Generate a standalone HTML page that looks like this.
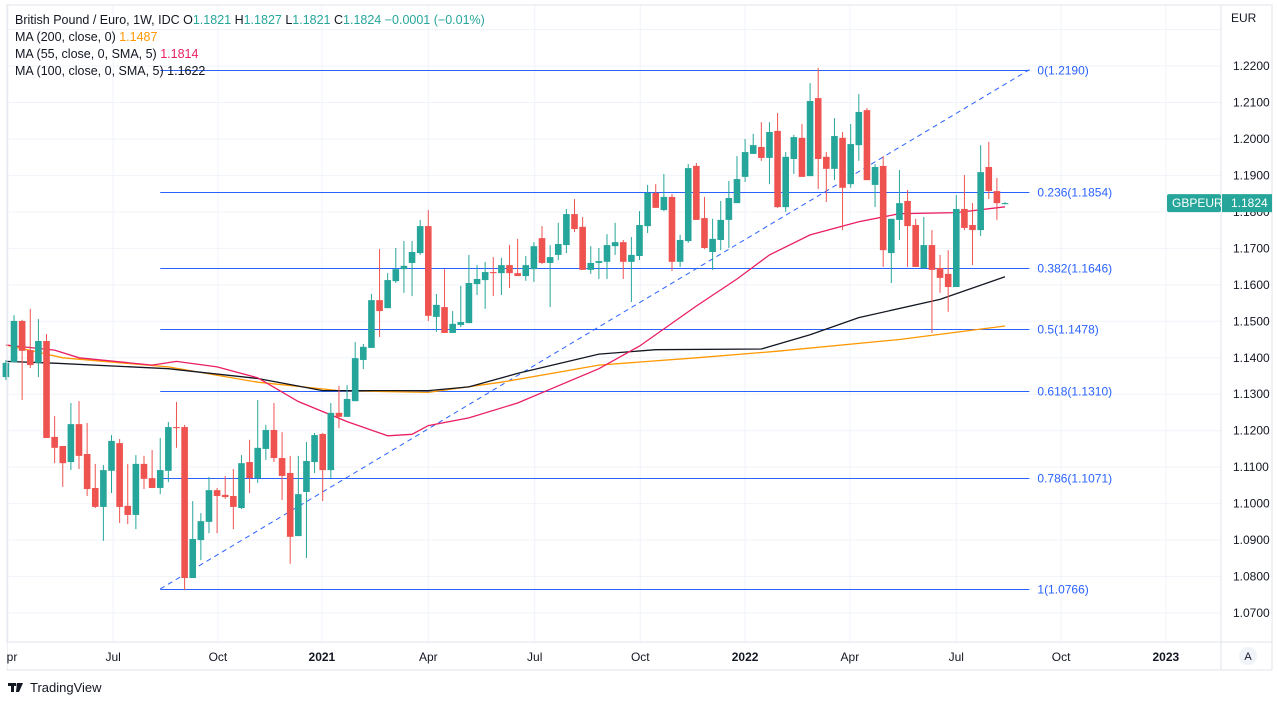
<!DOCTYPE html>
<html><head><meta charset="utf-8"><style>
body{margin:0;background:#fff;font-family:"Liberation Sans",sans-serif;}
svg{display:block}
</style></head><body>
<svg id="chart" width="1278" height="702" xmlns="http://www.w3.org/2000/svg">
<rect x="0" y="0" width="1278" height="702" fill="#fff"/>
<g id="grid"></g>
<g id="fib"></g>
<g id="mas"></g>
<g id="candles"></g>
<g id="axes"></g>
<g font-size="12.5" fill="#131722">
<text x="15" y="24">British Pound / Euro, 1W, IDC <tspan fill="#131722">O</tspan><tspan fill="#26a69a">1.1821</tspan>  <tspan fill="#131722"> H</tspan><tspan fill="#26a69a">1.1827</tspan><tspan fill="#131722">  L</tspan><tspan fill="#26a69a">1.1821</tspan><tspan fill="#131722">  C</tspan><tspan fill="#26a69a">1.1824  −0.0001 (−0.01%)</tspan></text>
<text x="15" y="41">MA (200, close, 0) <tspan fill="#ff9800">1.1487</tspan></text>
<text x="15" y="58">MA (55, close, 0, SMA, 5) <tspan fill="#e91e63">1.1814</tspan></text>
<text x="15" y="75">MA (100, close, 0, SMA, 5) <tspan fill="#131722">1.1622</tspan></text>
</g>
<g>
<rect x="8" y="683" width="8" height="3" fill="#131722"/><rect x="11" y="683" width="3" height="9" fill="#131722"/>
<polygon points="17,683 23,683 19,692 16,692" fill="#131722"/><circle cx="18" cy="685" r="1.5" fill="#131722"/>
<text x="30" y="692" font-size="13" fill="#131722">TradingView</text>
</g>
</svg>
<script>
const opens=[1.1347,1.1388,1.1501,1.1421,1.1386,1.1446,1.1183,1.1158,1.1114,1.1218,1.1136,1.1043,1.0991,1.1090,1.1166,1.0994,1.0969,1.1109,1.1070,1.1043,1.1090,1.1210,1.1210,1.0796,1.0900,1.0950,1.1037,1.1024,1.1021,1.0988,1.1114,1.1070,1.1150,1.1202,1.1125,1.1084,1.0911,1.1032,1.1114,1.1191,1.1092,1.1249,1.1238,1.1281,1.1394,1.1427,1.1558,1.1536,1.1610,1.1643,1.1660,1.1687,1.1761,1.1512,1.1539,1.1468,1.1490,1.1495,1.1602,1.1613,1.1635,1.1632,1.1654,1.1632,1.1624,1.1643,1.1728,1.1660,1.1682,1.1709,1.1794,1.1759,1.1641,1.1660,1.1663,1.1706,1.1717,1.1663,1.1679,1.1761,1.1852,1.1805,1.1841,1.1663,1.1720,1.1926,1.1783,1.1690,1.1723,1.1778,1.1824,1.1896,1.1959,1.1978,1.1948,1.2022,1.1813,1.1945,1.2003,1.1898,1.2112,1.1951,1.1918,1.2003,1.1876,1.1983,1.2079,1.1874,1.1926,1.1687,1.1778,1.1830,1.1764,1.1646,1.1709,1.1646,1.1630,1.1594,1.1808,1.1764,1.1750,1.1923,1.1857,1.1821];
const highs=[1.1394,1.1517,1.1504,1.1534,1.1506,1.1465,1.1240,1.1158,1.1276,1.1281,1.1221,1.1109,1.1106,1.1188,1.1177,1.1109,1.1133,1.1131,1.1147,1.1180,1.1224,1.1279,1.1216,1.1007,1.0974,1.1073,1.1043,1.1076,1.1095,1.1133,1.1175,1.1284,1.1216,1.1276,1.1196,1.1131,1.1131,1.1169,1.1194,1.1194,1.1276,1.1323,1.1325,1.1443,1.1438,1.1575,1.1698,1.1632,1.1701,1.1720,1.1720,1.1778,1.1805,1.1575,1.1643,1.1528,1.1597,1.1682,1.1654,1.1663,1.1676,1.1674,1.1709,1.1726,1.1679,1.1717,1.1761,1.1709,1.1770,1.1808,1.1835,1.1786,1.1706,1.1701,1.1739,1.1770,1.1723,1.1731,1.1802,1.1874,1.1876,1.1904,1.1849,1.1737,1.1931,1.1934,1.1841,1.1781,1.1830,1.1885,1.1953,1.2000,1.2014,1.2046,1.2046,1.2071,1.1964,1.2011,1.2041,1.2153,1.2195,1.1964,1.2057,1.2019,1.2041,1.2123,1.2085,1.1931,1.1953,1.1781,1.1915,1.1860,1.1781,1.1786,1.1750,1.1682,1.1695,1.1846,1.1901,1.1824,1.1983,1.1992,1.1893,1.1827];
const lows=[1.1339,1.1388,1.1284,1.1372,1.1347,1.1180,1.1111,1.1046,1.1092,1.1095,1.1021,1.0988,1.0898,1.1029,1.0947,1.0944,1.0930,1.1040,1.1043,1.1026,1.1059,1.1153,1.0763,1.0796,1.0845,1.0919,1.0919,1.1013,1.0930,1.0985,1.1029,1.1057,1.1120,1.1114,1.1010,1.0835,1.0911,1.0851,1.1084,1.1007,1.1070,1.1207,1.1238,1.1281,1.1369,1.1427,1.1457,1.1536,1.1605,1.1578,1.1569,1.1682,1.1501,1.1471,1.1468,1.1468,1.1484,1.1495,1.1572,1.1534,1.1569,1.1572,1.1591,1.1624,1.1611,1.1608,1.1657,1.1539,1.1668,1.1687,1.1745,1.1641,1.1630,1.1616,1.1616,1.1682,1.1616,1.1553,1.1668,1.1742,1.1811,1.1802,1.1638,1.1649,1.1715,1.1778,1.1698,1.1641,1.1695,1.1701,1.1824,1.1882,1.1959,1.1940,1.1876,1.1811,1.1800,1.1904,1.1896,1.1898,1.1863,1.1827,1.1887,1.1750,1.1866,1.1940,1.1887,1.1813,1.1649,1.1605,1.1723,1.1649,1.1649,1.1643,1.1468,1.1578,1.1526,1.1594,1.1750,1.1654,1.1734,1.1835,1.1778,1.1821];
const closes=[1.1386,1.1501,1.1419,1.1380,1.1446,1.1180,1.1153,1.1111,1.1218,1.1131,1.1040,1.0991,1.1092,1.1172,1.0991,1.0969,1.1109,1.1068,1.1043,1.1092,1.1210,1.1207,1.0796,1.0903,1.0952,1.1037,1.1021,1.1018,1.0991,1.1111,1.1070,1.1153,1.1202,1.1125,1.1076,1.0909,1.1026,1.1117,1.1188,1.1092,1.1249,1.1238,1.1287,1.1399,1.1430,1.1558,1.1528,1.1613,1.1643,1.1652,1.1690,1.1761,1.1515,1.1545,1.1468,1.1493,1.1498,1.1605,1.1616,1.1635,1.1632,1.1654,1.1632,1.1624,1.1654,1.1706,1.1660,1.1676,1.1712,1.1794,1.1753,1.1641,1.1660,1.1665,1.1709,1.1717,1.1663,1.1682,1.1764,1.1852,1.1811,1.1841,1.1663,1.1723,1.1920,1.1778,1.1701,1.1726,1.1778,1.1838,1.1890,1.1964,1.1983,1.1948,1.2019,1.1813,1.1951,1.2005,1.1896,1.2104,1.1945,1.1918,1.2008,1.1866,1.1986,1.2074,1.1887,1.1923,1.1695,1.1781,1.1824,1.1761,1.1649,1.1709,1.1641,1.1619,1.1594,1.1808,1.1756,1.1750,1.1909,1.1857,1.1824,1.1824];
const ma200Idx=[0,7,20,31,41,52,61,73,85,95,110,123];
const ma200Val=[1.1435,1.1400,1.1375,1.1333,1.1310,1.1305,1.1333,1.1380,1.1400,1.1418,1.1450,1.1487];
const ma100Idx=[0,6,20,24,31,39,52,57,63,73,80,93,99,105,115,123];
const ma100Val=[1.1390,1.1385,1.1370,1.1360,1.1343,1.1310,1.1310,1.1320,1.1357,1.1410,1.1422,1.1424,1.1463,1.1510,1.1560,1.1622];
const ma55Idx=[0,6,9,18,21,26,31,36,42,47,50,52,57,63,68,73,78,85,90,94,99,105,110,117,123];
const ma55Val=[1.1435,1.1421,1.1400,1.1380,1.1390,1.1375,1.1345,1.1280,1.1225,1.1186,1.1190,1.1214,1.1235,1.1276,1.1323,1.1370,1.1432,1.1542,1.1616,1.1682,1.1737,1.1773,1.1795,1.1798,1.1814];
const priceTicks=[1.07,1.08,1.09,1.10,1.11,1.12,1.13,1.14,1.15,1.16,1.17,1.18,1.19,1.20,1.21,1.22];
const timeLabels=["Apr","Jul","Oct","2021","Apr","Jul","Oct","2022","Apr","Jul","Oct","2023"];
const timeIdx=[0.26,13.2,26.1,38.9,52.0,65.1,78.1,91.0,103.9,117.0,129.9,142.8];
const fibLevels=[0,0.236,0.382,0.5,0.618,0.786,1];
const fibHigh=1.2190, fibLow=1.0766;
const fibStartIdx=19, fibEndIdx=126;

const NS="http://www.w3.org/2000/svg";
const X=i=>5.9+i*8.123;
const Y=p=>66+(1.22-p)*3647;
const PL=7,PR=1221,PT=5,PB=642;
function mk(tag,attrs,parent){const e=document.createElementNS(NS,tag);for(const k in attrs)e.setAttribute(k,attrs[k]);parent.appendChild(e);return e;}
const grid=document.getElementById('grid');
priceTicks.concat([1.23]).forEach(p=>{const l=mk('line',{x1:PL,x2:PR,y1:Y(p),y2:Y(p),stroke:'#f0f3fa','stroke-width':1},grid);

});
timeIdx.forEach(t=>{const l=mk('line',{x1:X(t),x2:X(t),y1:PT,y2:PB,stroke:'#f0f3fa','stroke-width':1},grid);

});
const fib=document.getElementById('fib');
const fd=mk('line',{x1:X(fibStartIdx),y1:Y(fibLow),x2:X(fibEndIdx),y2:Y(fibHigh),stroke:'#2962ff','stroke-width':1,'stroke-dasharray':'5,4'},fib);


fibLevels.forEach(f=>{const p=fibHigh-(fibHigh-fibLow)*f;const y=Math.round(Y(p))+0.5;
const l=mk('line',{x1:X(fibStartIdx),x2:X(fibEndIdx),y1:y,y2:y,stroke:'#2962ff','stroke-width':1},fib);


const t=mk('text',{x:X(fibEndIdx)+8,y:y+4,'font-size':12,fill:'#2962ff'},fib);
t.textContent=f+'('+p.toFixed(4)+')';

});
const mas=document.getElementById('mas');
function maLine(idx,val,color,w,name){const pts=idx.map((i,k)=>X(i).toFixed(1)+','+Y(val[k]).toFixed(1)).join(' ');
const pl=mk('polyline',{points:pts,fill:'none',stroke:color,'stroke-width':w},mas);

}
maLine(ma200Idx,ma200Val,'#ff9800',1.3,'ma200-line');
maLine(ma100Idx,ma100Val,'#131722',1.3,'ma100-line');
maLine(ma55Idx,ma55Val,'#e91e63',1.3,'ma55-line');
const cg=document.getElementById('candles');
opens.forEach((o,i)=>{const c=closes[i],up=c>=o,col=up?'#26a69a':'#ef5350',x=X(i);
const w=mk('line',{x1:x,x2:x,y1:Y(highs[i]),y2:Y(lows[i]),stroke:col,'stroke-width':1},cg);


const top=Y(Math.max(o,c)),h=Math.max(1,Math.abs(Y(o)-Y(c)));
const b=mk('rect',{x:x-3.3,y:top,width:6.6,height:h,fill:col},cg);

});
const ax=document.getElementById('axes');
mk('rect',{x:PR+1,y:0,width:60,height:670,fill:'#fff'},ax);
mk('rect',{x:0,y:0,width:1278,height:PT,fill:'#fff'},ax);
mk('rect',{x:PL,y:PT,width:1265,height:665,fill:'none',stroke:'#e0e3eb','stroke-width':1},ax);
mk('line',{x1:PR,x2:PR,y1:PT,y2:670,stroke:'#e0e3eb'},ax);
mk('line',{x1:PL,x2:1272,y1:PB,y2:PB,stroke:'#e0e3eb'},ax);
priceTicks.forEach(p=>{const y=Y(p);const t=mk('text',{x:1233,y:y+4,'font-size':12,fill:'#131722'},ax);t.textContent=p.toFixed(4);

});
const eur=mk('text',{x:1231,y:22,'font-size':12,fill:'#131722'},ax);eur.textContent='EUR';


timeLabels.forEach((s,k)=>{const t=mk('text',{x:X(timeIdx[k]),y:661,'font-size':12,fill:'#131722','text-anchor':'middle','font-weight':/^\d/.test(s)?'bold':'normal'},ax);t.textContent=s;

});
mk('rect',{x:0,y:643,width:PL,height:26,fill:'#fff'},ax);
const last=closes[closes.length-1],ly=Y(last);
const tag=mk('rect',{x:1167,y:ly-9,width:54,height:18,rx:2,fill:'#26a69a'},ax);


const tt=mk('text',{x:1172,y:ly+4,'font-size':12,fill:'#fff'},ax);tt.textContent='GBPEUR';
const pr=mk('rect',{x:1222,y:ly-9,width:50,height:18,fill:'#26a69a'},ax);


const pt=mk('text',{x:1231,y:ly+4,'font-size':12,fill:'#fff'},ax);pt.textContent=last.toFixed(4);
const ab=mk('circle',{cx:1248,cy:656,r:9,fill:'#f0f3fa'},ax);


const at=mk('text',{x:1248,y:660,'font-size':11,fill:'#131722','text-anchor':'middle'},ax);at.textContent='A';
</script>
</body></html>
